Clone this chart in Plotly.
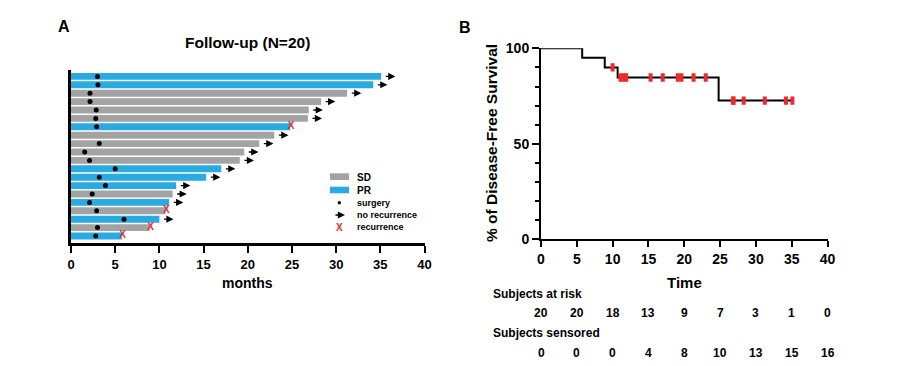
import plotly.graph_objects as go

# ---------------- data ----------------
# Panel A: patients listed from top to bottom
response = ["PR", "PR", "SD", "SD", "SD", "SD", "PR", "SD", "SD", "SD",
            "SD", "PR", "PR", "PR", "SD", "PR", "SD", "PR", "SD", "PR"]
followup = [35.1, 34.2, 31.25, 28.3, 26.9, 26.8, 24.8, 23.0, 21.3, 19.6,
            19.1, 17.0, 15.3, 11.9, 11.5, 11.1, 10.7, 10.0, 8.9, 5.75]
surgery = [3.0, 3.05, 2.15, 2.15, 2.85, 2.8, 2.9, None, 3.2, 1.55,
           2.1, 5.0, 3.2, 3.9, 2.4, 2.1, 2.9, 6.0, 3.0, 2.8]
recurrence = [0, 0, 0, 0, 0, 0, 1, 0, 0, 0,
              0, 0, 0, 0, 0, 0, 1, 0, 1, 1]

# Panel B: number-at-risk table
table_times = [0, 5, 10, 15, 20, 25, 30, 35, 40]
at_risk = [20, 20, 18, 13, 9, 7, 3, 1, 0]
censored = [0, 0, 0, 4, 8, 10, 13, 15, 16]

x_ticks = [0, 5, 10, 15, 20, 25, 30, 35, 40]

# ---------------- styling ----------------
# the page body has an 8px margin: the figure starts at (8, 8) in the window
OFF = 8
W, H = 920 - OFF, 366 - OFF
BLUE = "#29ABE2"
GRAY = "#A3A3A3"
RED = "#EE2A2A"
FONT = "Arial, Liberation Sans, sans-serif"


def px(xp):
    return (xp - OFF) / W


def py(yp):
    return 1 - (yp - OFF) / H


n = len(followup)
rows = [n - 1 - i for i in range(n)]  # top patient highest

fig = go.Figure()

# bars
for cat, col in (("SD", GRAY), ("PR", BLUE)):
    xs = [followup[i] for i in range(n) if response[i] == cat]
    ys = [rows[i] for i in range(n) if response[i] == cat]
    fig.add_trace(go.Bar(x=xs, y=ys, orientation="h", base=0, width=0.82,
                         marker=dict(color=col, line=dict(width=0)),
                         showlegend=False, xaxis="x", yaxis="y", name=cat))

# surgery dots
fig.add_trace(go.Scatter(
    x=[surgery[i] for i in range(n) if surgery[i] is not None],
    y=[rows[i] for i in range(n) if surgery[i] is not None],
    mode="markers", marker=dict(color="black", size=5),
    showlegend=False, xaxis="x", yaxis="y"))

# recurrence X
fig.add_trace(go.Scatter(
    x=[followup[i] + 0.1 for i in range(n) if recurrence[i]],
    y=[rows[i] for i in range(n) if recurrence[i]],
    mode="text", text=["X"] * sum(recurrence),
    textfont=dict(color=RED, size=10, family=FONT, weight=700),
    textposition="middle center",
    showlegend=False, xaxis="x", yaxis="y"))

annotations = []
shapes = []

# no-recurrence arrows
for i in range(n):
    if not recurrence[i]:
        annotations.append(dict(
            x=followup[i] + 1.6, y=rows[i], ax=followup[i] + 0.35, ay=rows[i],
            xref="x", yref="y", axref="x", ayref="y", text="",
            showarrow=True, arrowhead=2, arrowsize=1.1, arrowwidth=1.3,
            arrowcolor="black", standoff=0, startstandoff=0))

# ---------------- Kaplan-Meier ----------------
order = sorted(range(n), key=lambda i: followup[i])
surv = 100.0
km_x, km_y = [0], [100.0]
cens_x, cens_y = [], []
for i in order:
    t = followup[i]
    if recurrence[i]:
        at = sum(1 for tt in followup if tt >= t)
        surv = surv * (1 - 1 / at)
        km_x.append(t)
        km_y.append(surv)
    else:
        cens_x.append(t)
        cens_y.append(surv)
km_x.append(max(followup))
km_y.append(surv)

fig.add_trace(go.Scatter(x=km_x, y=km_y, mode="lines", line=dict(shape="hv", color="black", width=2),
                         showlegend=False, xaxis="x2", yaxis="y2"))
fig.add_trace(go.Scatter(x=cens_x, y=cens_y, mode="markers",
                         marker=dict(symbol="line-ns", size=6, line=dict(color=RED, width=4)),
                         showlegend=False, xaxis="x2", yaxis="y2"))

# ---------------- legend for panel A ----------------
shapes.append(dict(type="rect", xref="paper", yref="paper", x0=px(330), x1=px(349),
                   y0=py(180), y1=py(173.3), fillcolor=GRAY, line=dict(width=0)))
shapes.append(dict(type="rect", xref="paper", yref="paper", x0=px(330), x1=px(349),
                   y0=py(193.3), y1=py(186.7), fillcolor=BLUE, line=dict(width=0)))
shapes.append(dict(type="circle", xref="paper", yref="paper", x0=px(337.6), x1=px(341),
                   y0=py(204.4), y1=py(201), fillcolor="black", line=dict(width=0)))
annotations.append(dict(x=px(345), y=py(215), xref="paper", yref="paper", ax=-11, ay=0,
                        text="", showarrow=True, arrowhead=2, arrowsize=1.1, arrowwidth=1.3,
                        arrowcolor="black", standoff=0))
annotations.append(dict(x=px(339.5), y=py(227.5), xref="paper", yref="paper", text="X",
                        showarrow=False, font=dict(color=RED, size=10, family=FONT, weight=700)))
for txt, yy, sz in (("SD", 177, 10), ("PR", 190, 10), ("surgery", 202.5, 9),
                    ("no recurrence", 214.5, 9), ("recurrence", 227, 9)):
    annotations.append(dict(x=px(355), y=py(yy), xref="paper", yref="paper", text=txt,
                            showarrow=False, xanchor="left", yanchor="middle",
                            font=dict(size=sz, family=FONT, color="black", weight=700)))


# ---------------- titles / labels ----------------
def label(txt, xp, yp, size, xanchor="center", angle=0):
    annotations.append(dict(x=px(xp), y=py(yp), xref="paper", yref="paper", text=txt,
                            showarrow=False, xanchor=xanchor, yanchor="middle", textangle=angle,
                            font=dict(size=size, family=FONT, color="black", weight=700)))


label("A", 64, 26, 16)
label("B", 465, 27, 16)
label("Follow-up (N=20)", 247, 43, 15.5)
label("months", 247, 283, 14)
label("Time", 684, 282, 15)
label("% of Disease-Free Survival", 491, 143, 15.5, angle=-90)
label("Subjects at risk", 491, 294, 12, xanchor="left")
label("Subjects sensored", 491, 333, 12, xanchor="left")

for t, r, c in zip(table_times, at_risk, censored):
    annotations.append(dict(x=t, y=py(313), xref="x2", yref="paper", text=str(r), showarrow=False,
                            yanchor="middle", font=dict(size=12, family=FONT, color="black", weight=700)))
    annotations.append(dict(x=t, y=py(352.5), xref="x2", yref="paper", text=str(c), showarrow=False,
                            yanchor="middle", font=dict(size=12, family=FONT, color="black", weight=700)))

tickfont_a = dict(size=13, family=FONT, color="black", weight=700)
tickfont_b = dict(size=14, family=FONT, color="black", weight=700)

fig.update_layout(
    template="none",
    width=W, height=H,
    autosize=False,
    margin=dict(l=0, r=0, t=0, b=0, pad=0, autoexpand=False),
    paper_bgcolor="white", plot_bgcolor="white",
    barmode="overlay",
    showlegend=False,
    xaxis=dict(domain=[px(71), px(424.5)], range=[0, 40], tickvals=x_ticks, automargin=False,
               showline=True, linecolor="black", linewidth=2.5, ticks="outside",
               ticklen=7, tickwidth=2, tickcolor="black", showgrid=False, zeroline=False,
               tickfont=tickfont_a, anchor="y"),
    yaxis=dict(domain=[py(243.3), py(70)], range=[-0.87, 19.76], showline=True, automargin=False,
               linecolor="black", linewidth=2.5, showticklabels=False, ticks="",
               showgrid=False, zeroline=False, anchor="x"),
    xaxis2=dict(domain=[px(541), px(827.5)], range=[0, 40], tickvals=x_ticks, automargin=False,
                showline=True, linecolor="black", linewidth=2, ticks="outside",
                ticklen=6, tickwidth=2, tickcolor="black", showgrid=False, zeroline=False,
                tickfont=tickfont_b, anchor="y2"),
    yaxis2=dict(domain=[py(239.3), py(48.3)], range=[0, 100], tickvals=[0, 50, 100], automargin=False,
                showline=True, linecolor="black", linewidth=2, ticks="outside",
                ticklen=7, tickwidth=2, tickcolor="black", showgrid=False, zeroline=False,
                minor=dict(dtick=10, ticks="outside", ticklen=4, tickwidth=2, tickcolor="black",
                           showgrid=False),
                tickfont=tickfont_b, anchor="x2"),
    annotations=annotations,
    shapes=shapes,
)

fig.write_html("out.html")
